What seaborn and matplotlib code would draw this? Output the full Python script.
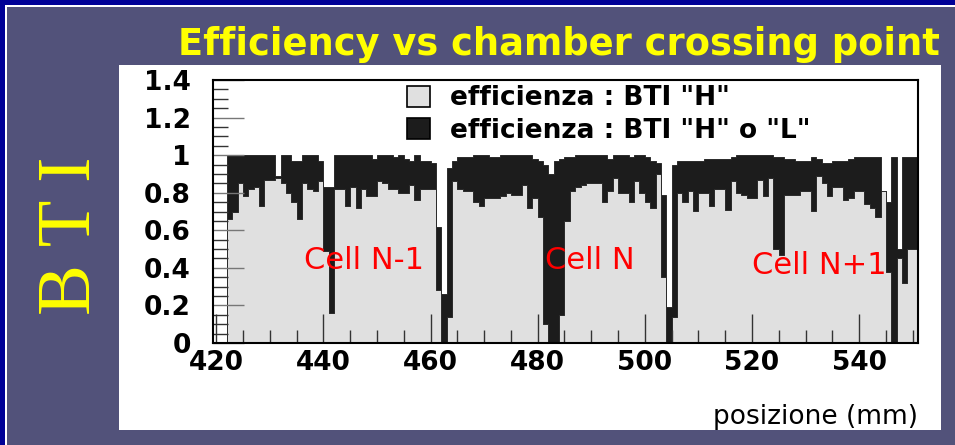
import numpy as np
import pandas as pd
import matplotlib
matplotlib.use("Agg")
import matplotlib.pyplot as plt
import seaborn as sns
from matplotlib.patches import Rectangle, Patch
from matplotlib.ticker import MultipleLocator, FuncFormatter

# ---------------- data ----------------
bin_start = 420.0   # mm, left edge of first bin
bin_width = 1.0     # mm

# efficiency BTI "H" or "L" (black)
eff_HL = [
    0, 0, 1.0, 1.0, 1.0, 1.0, 1.0, 1.0, 1.0, 1.0,
    1.0, 0.89, 1.0, 1.0, 0.97, 0.97, 1.0, 1.0, 1.0, 0.97,
    0.83, 0.83, 1.0, 1.0, 1.0, 1.0, 1.0, 1.0, 1.0, 0.98,
    1.0, 1.0, 1.0, 0.99, 1.0, 0.98, 0.97, 1.0, 0.97, 0.97,
    0.96, 0.62, 0.26, 0.93, 0.97, 0.99, 0.99, 0.99, 1.0, 1.0,
    1.0, 0.99, 0.99, 1.0, 1.0, 1.0, 1.0, 1.0, 1.0, 0.98,
    0.97, 0.95, 0.90, 0.97, 0.98, 0.99, 0.99, 1.0, 1.0, 1.0,
    1.0, 1.0, 1.0, 0.98, 1.0, 1.0, 1.0, 0.99, 1.0, 1.0,
    0.99, 0.97, 0.96, 0.79, 0.19, 0.95, 0.97, 0.97, 0.97, 0.97,
    0.97, 0.98, 0.98, 0.98, 0.98, 0.98, 0.99, 1.0, 1.0, 1.0,
    1.0, 1.0, 1.0, 1.0, 0.99, 0.99, 0.98, 0.98, 0.97, 0.97,
    0.97, 0.99, 0.98, 0.96, 0.96, 0.97, 0.97, 0.97, 0.98, 0.99,
    0.99, 0.99, 0.99, 0.99, 0.81, 0.75, 0.99, 0.50, 0.99, 0.99,
    0.99,
]

# efficiency BTI "H" (light grey)
eff_H = [
    0, 0, 0.66, 0.70, 0.85, 0.78, 0.82, 0.83, 0.73, 0.87,
    0.87, 0.88, 0.85, 0.80, 0.75, 0.66, 0.85, 0.82, 0.81, 0.86,
    0.49, 0.16, 0.82, 0.82, 0.73, 0.83, 0.72, 0.82, 0.78, 0.78,
    0.86, 0.85, 0.82, 0.82, 0.80, 0.80, 0.84, 0.76, 0.82, 0.82,
    0.82, 0.28, 0.0, 0.14, 0.86, 0.82, 0.81, 0.81, 0.75, 0.73,
    0.77, 0.77, 0.77, 0.78, 0.80, 0.79, 0.79, 0.84, 0.72, 0.77,
    0.67, 0.10, 0.0, 0.0, 0.15, 0.65, 0.81, 0.83, 0.84, 0.85,
    0.85, 0.85, 0.75, 0.81, 0.88, 0.80, 0.80, 0.75, 0.86, 0.80,
    0.75, 0.72, 0.90, 0.35, 0.0, 0.14, 0.80, 0.75, 0.81, 0.70,
    0.80, 0.80, 0.73, 0.82, 0.82, 0.71, 0.86, 0.80, 0.79, 0.77,
    0.77, 0.87, 0.78, 0.88, 0.50, 0.47, 0.79, 0.79, 0.79, 0.81,
    0.81, 0.70, 0.89, 0.85, 0.78, 0.83, 0.83, 0.76, 0.77, 0.81,
    0.81, 0.74, 0.72, 0.67, 0.81, 0.38, 0.0, 0.45, 0.32, 0.50,
    0.50,
]

legend_labels = ['efficienza : BTI "H"', 'efficienza : BTI "H" o "L"']
cell_labels = ["Cell N-1", "Cell N", "Cell N+1"]
cell_x = [447.5, 489.8, 532.6]
cell_y = [0.44, 0.44, 0.41]
x_ticks = [420, 440, 460, 480, 500, 520, 540]
y_ticks = [0, 0.2, 0.4, 0.6, 0.8, 1.0, 1.2, 1.4]

title = "Efficiency vs chamber crossing point"
side_label = "B T I"
x_label = "posizione (mm)"

# ---------------- style ----------------
SLATE = "#52527a"
NAVY = "#000096"
YELLOW = "#ffff00"
GREY = "#e0e0e0"
BLACK = "#1c1c1c"

sns.set_theme(style="white")
plt.rcParams["font.family"] = ["DejaVu Sans"]

W, H = 955, 445
fig = plt.figure(figsize=(W / 100, H / 100), dpi=100, facecolor=SLATE)

# slide decorations
fig.add_artist(Rectangle((0, 1 - 5 / H), 1, 5 / H, transform=fig.transFigure,
                         facecolor=NAVY, edgecolor="none", zorder=-5))
fig.add_artist(Rectangle((0, 1 - 7 / H), 1, 2 / H, transform=fig.transFigure,
                         facecolor="white", edgecolor="none", zorder=-5))
fig.add_artist(Rectangle((0, 0), 5 / W, 1, transform=fig.transFigure,
                         facecolor=NAVY, edgecolor="none", zorder=-4))
fig.add_artist(Rectangle((5 / W, 0), 2 / W, 1 - 5 / H, transform=fig.transFigure,
                         facecolor="white", edgecolor="none", zorder=-4))
# white canvas of the embedded plot
fig.add_artist(Rectangle((119 / W, 1 - 430 / H), 822 / W, 365 / H,
                         transform=fig.transFigure, facecolor="white",
                         edgecolor="none", zorder=-3))

ax = fig.add_axes([213 / W, 1 - 343 / H, 705 / W, 263 / H])
ax.set_facecolor("white")

n = len(eff_H)
edges = bin_start + bin_width * np.arange(n + 1)
centers = edges[:-1] + bin_width / 2
df = pd.DataFrame({"pos": centers, "eff_HL": eff_HL, "eff_H": eff_H})

sns.histplot(data=df, x="pos", weights="eff_HL", bins=list(edges),
             element="step", fill=True, color=BLACK, alpha=1, linewidth=0.6,
             ax=ax, zorder=1)
sns.histplot(data=df, x="pos", weights="eff_H", bins=list(edges),
             element="step", fill=True, facecolor=GREY, edgecolor="#2a2a2a",
             alpha=1, linewidth=0.7, ax=ax, zorder=1.5)

ax.set_xlim(419.4, 551.0)
ax.set_ylim(0, 1.4)
ax.set_ylabel("")

ax.xaxis.set_minor_locator(MultipleLocator(5))
ax.yaxis.set_minor_locator(MultipleLocator(0.05))
ax.set_xticks(x_ticks)
ax.set_yticks(y_ticks)
ax.yaxis.set_major_formatter(FuncFormatter(lambda v, p: f"{v:g}"))

ax.tick_params(which="both", bottom=True, left=True, top=False, right=False)
ax.tick_params(axis="x", which="major", direction="in", length=21, width=1,
               color="#333", pad=5, labelsize=19)
ax.tick_params(axis="x", which="minor", direction="in", length=9.5, width=1,
               color="#333")
ax.tick_params(axis="y", which="major", direction="in", length=22, width=1,
               color="#777", pad=16, labelsize=19)
ax.tick_params(axis="y", which="minor", direction="in", length=10.5, width=1,
               color="#333")
for lab in ax.get_xticklabels() + ax.get_yticklabels():
    lab.set_fontweight("bold")
    lab.set_color("black")
for sp in ax.spines.values():
    sp.set_visible(True)
    sp.set_color("black")
    sp.set_linewidth(1.5)
    sp.set_zorder(6)
ax.set_axisbelow(False)

ax.set_xlabel(x_label, loc="right", fontsize=19, labelpad=20, color="black")

# legend
handles = [Patch(facecolor=GREY, edgecolor="black", linewidth=1.2),
           Patch(facecolor=BLACK, edgecolor="black", linewidth=1.2)]
leg = ax.legend(handles, legend_labels, loc="upper left",
                bbox_to_anchor=((402 - 213) / 705, 1.0), frameon=False,
                prop={"size": 19, "weight": "bold"}, handlelength=0.85,
                handleheight=0.85, handletextpad=0.75, labelspacing=0.25,
                borderaxespad=0.0, borderpad=0.2)
for t in leg.get_texts():
    t.set_color("black")

# cell annotations
for lab, cx, cy in zip(cell_labels, cell_x, cell_y):
    ax.text(cx, cy, lab, color="red", fontsize=22, ha="center", va="center",
            zorder=7)

# title and side label
fig.text((177 + 940) / 2 / W, 1 - 55 / H, title, ha="center", va="baseline",
         color=YELLOW, fontsize=26.5, fontweight="bold")
fig.text(72 / W, 1 - 236 / H, side_label, rotation=90, ha="center",
         va="center", color=YELLOW, fontsize=55, family=["Liberation Serif"])

fig.savefig("out.png", dpi=100, facecolor=SLATE)
